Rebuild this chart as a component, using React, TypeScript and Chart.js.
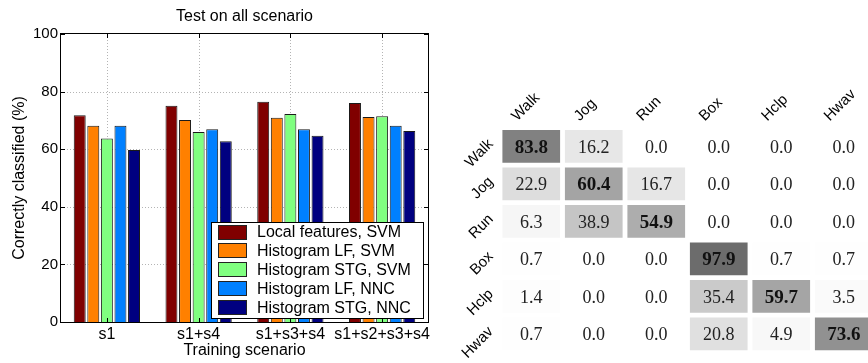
import React, { useEffect, useRef } from 'react';
import { Chart, registerables } from 'chart.js';

Chart.register(...registerables);

// ---------- Bar chart data ----------
const scenarios = ['s1', 's1+s4', 's1+s3+s4', 's1+s2+s3+s4'];
const seriesNames = [
  'Local features, SVM',
  'Histogram LF, SVM',
  'Histogram STG, SVM',
  'Histogram LF, NNC',
  'Histogram STG, NNC',
];
const localFeaturesSVM = [71.8, 75.1, 76.5, 76.0];
const histogramLFSVM = [68.1, 70.1, 70.9, 71.2];
const histogramSTGSVM = [63.7, 66.0, 72.2, 71.4];
const histogramLFNNC = [68.1, 66.9, 66.9, 68.1];
const histogramSTGNNC = [59.7, 62.8, 64.7, 66.3];
const seriesColors = ['#800000', '#ff8000', '#80ff80', '#0080ff', '#000080'];
const yTickValues = [0, 20, 40, 60, 80, 100];

// ---------- Confusion matrix data ----------
const actions = ['Walk', 'Jog', 'Run', 'Box', 'Hclp', 'Hwav'];
const rowWalk = [83.8, 16.2, 0.0, 0.0, 0.0, 0.0];
const rowJog = [22.9, 60.4, 16.7, 0.0, 0.0, 0.0];
const rowRun = [6.3, 38.9, 54.9, 0.0, 0.0, 0.0];
const rowBox = [0.7, 0.0, 0.0, 97.9, 0.7, 0.7];
const rowHclp = [1.4, 0.0, 0.0, 35.4, 59.7, 3.5];
const rowHwav = [0.7, 0.0, 0.0, 20.8, 4.9, 73.6];

const SANS = '"Liberation Sans", Arial, Helvetica, sans-serif';
const SERIF = '"Liberation Serif", "Times New Roman", serif';

const cellGray = (v: number) => {
  const g = Math.round(255 - 1.5 * v);
  return `rgb(${g},${g},${g})`;
};

const barFramePlugin = {
  id: 'barFrame',
  beforeDatasetsDraw(chart: any) {
    const { ctx, chartArea: a, scales } = chart;
    ctx.save();
    ctx.strokeStyle = '#b4b4b4';
    ctx.lineWidth = 1;
    ctx.setLineDash([1, 2]);
    yTickValues.forEach((v) => {
      if (v === 0 || v === 100) return;
      const y = Math.round(scales.y.getPixelForValue(v)) + 0.5;
      ctx.beginPath();
      ctx.moveTo(a.left, y);
      ctx.lineTo(a.right, y);
      ctx.stroke();
    });
    scenarios.forEach((_, i) => {
      const x = Math.round(scales.x.getPixelForValue(i)) + 0.5;
      ctx.beginPath();
      ctx.moveTo(x, a.top);
      ctx.lineTo(x, a.bottom);
      ctx.stroke();
    });
    ctx.restore();
  },
  afterDatasetsDraw(chart: any) {
    const { ctx, chartArea: a, scales } = chart;
    ctx.save();
    ctx.setLineDash([]);
    ctx.strokeStyle = '#000';
    ctx.lineWidth = 1;
    ctx.strokeRect(a.left - 0.5, a.top - 0.5, a.right - a.left + 1, a.bottom - a.top + 1);
    // inward tick marks
    ctx.beginPath();
    yTickValues.forEach((v) => {
      const y = Math.round(scales.y.getPixelForValue(v)) + 0.5;
      ctx.moveTo(a.left, y);
      ctx.lineTo(a.left + 4, y);
      ctx.moveTo(a.right, y);
      ctx.lineTo(a.right - 4, y);
    });
    scenarios.forEach((_, i) => {
      const x = Math.round(scales.x.getPixelForValue(i)) + 0.5;
      ctx.moveTo(x, a.bottom);
      ctx.lineTo(x, a.bottom - 4);
      ctx.moveTo(x, a.top);
      ctx.lineTo(x, a.top + 4);
    });
    ctx.stroke();

    // legend box
    const lx = 211, ly = 222, lw = 212, lh = 96;
    ctx.fillStyle = '#fff';
    ctx.fillRect(lx, ly, lw, lh);
    ctx.strokeRect(lx + 0.5, ly + 0.5, lw, lh);
    ctx.font = `16px ${SANS}`;
    ctx.textAlign = 'left';
    ctx.textBaseline = 'middle';
    chart.data.datasets.forEach((ds: any, i: number) => {
      const cy = 232 + i * 18.9;
      ctx.fillStyle = ds.backgroundColor;
      ctx.fillRect(218, Math.round(cy - 7.5), 29, 15);
      ctx.strokeStyle = '#222';
      ctx.strokeRect(218.5, Math.round(cy - 7.5) + 0.5, 28, 14);
      ctx.fillStyle = '#000';
      ctx.fillText(ds.label, 257, cy + 1);
    });
    ctx.restore();
  },
  afterDraw(chart: any) {
    const { ctx, chartArea: a } = chart;
    const cx = (a.left + a.right) / 2;
    ctx.save();
    ctx.fillStyle = '#000';
    ctx.font = `16px ${SANS}`;
    ctx.textAlign = 'center';
    ctx.textBaseline = 'alphabetic';
    ctx.fillText('Test on all scenario', cx, 21);
    ctx.fillText('Training scenario', cx, 355);
    ctx.translate(20, (a.top + a.bottom) / 2);
    ctx.rotate(-Math.PI / 2);
    ctx.textBaseline = 'middle';
    ctx.fillText('Correctly classified (%)', 0, 0);
    ctx.restore();
  },
};

const matrixRows = [rowWalk, rowJog, rowRun, rowBox, rowHclp, rowHwav];

const matrixPlugin = {
  id: 'matrixText',
  afterDatasetsDraw(chart: any) {
    const { ctx, chartArea: a, scales } = chart;
    ctx.save();
    ctx.textAlign = 'center';
    ctx.textBaseline = 'alphabetic';
    chart.data.datasets.forEach((_: any, i: number) => {
      const meta = chart.getDatasetMeta(i);
      meta.data.forEach((el: any, j: number) => {
        const v = matrixRows[i][j];
        const diag = i === j;
        ctx.font = `${diag ? 'bold 19px' : '18px'} ${SERIF}`;
        ctx.fillStyle = diag ? '#111' : '#222';
        const cy = (el.y + el.base) / 2;
        ctx.fillText(v.toFixed(1), el.x, cy + 6.5);
      });
    });
    ctx.font = `15px ${SANS}`;
    ctx.fillStyle = '#000';
    ctx.textBaseline = 'middle';
    actions.forEach((name, j) => {
      const x = scales.x.getPixelForValue(j);
      ctx.save();
      ctx.translate(x - 17, a.top - 9);
      ctx.rotate(-Math.PI / 4);
      ctx.textAlign = 'left';
      ctx.fillText(name, 0, 0);
      ctx.restore();
    });
    actions.forEach((name, i) => {
      const y = scales.y.getPixelForValue(i);
      ctx.save();
      ctx.translate(a.left - 9, y - 4.5);
      ctx.rotate(-Math.PI / 4);
      ctx.textAlign = 'right';
      ctx.fillText(name, 0, 0);
      ctx.restore();
    });
    ctx.restore();
  },
};

export default function App() {
  const barRef = useRef<HTMLCanvasElement>(null);
  const matRef = useRef<HTMLCanvasElement>(null);

  useEffect(() => {
    const seriesValues = [localFeaturesSVM, histogramLFSVM, histogramSTGSVM, histogramLFNNC, histogramSTGNNC];
    const bar = new Chart(barRef.current!, {
      type: 'bar',
      data: {
        labels: scenarios,
        datasets: seriesValues.map((d, i) => ({
          label: seriesNames[i],
          data: d,
          backgroundColor: seriesColors[i],
          borderColor: '#1a1a1a',
          borderWidth: 1,
          categoryPercentage: 0.74,
          barPercentage: 0.88,
        })),
      },
      options: {
        responsive: false,
        animation: false,
        layout: { padding: { top: 34, right: 12, left: 0, bottom: 0 } },
        plugins: { legend: { display: false }, title: { display: false }, tooltip: { enabled: false } },
        scales: {
          x: {
            grid: { display: false, drawTicks: false },
            border: { display: false },
            ticks: { font: { family: SANS, size: 16 }, color: '#000', padding: 3, maxRotation: 0, minRotation: 0, autoSkip: false },
            afterFit: (s: any) => { s.height = 41; },
          },
          y: {
            min: 0,
            max: 100,
            grid: { display: false, drawTicks: false },
            border: { display: false },
            ticks: { stepSize: 20, font: { family: SANS, size: 15 }, color: '#000', padding: 3 },
            afterFit: (s: any) => { s.width = 61; },
          },
        },
      } as any,
      plugins: [barFramePlugin],
    });

    const mat = new Chart(matRef.current!, {
      type: 'bar',
      data: {
        labels: actions,
        datasets: matrixRows.map((row, i) => ({
          label: actions[i],
          data: row.map(() => [i - 0.436, i + 0.436]),
          backgroundColor: row.map((v) => cellGray(v)),
          borderWidth: 0,
          grouped: false,
          categoryPercentage: 1,
          barPercentage: 0.923,
        })),
      } as any,
      options: {
        responsive: false,
        animation: false,
        layout: { padding: { left: 60, right: 5, top: 127.6, bottom: 10.4 } },
        plugins: { legend: { display: false }, tooltip: { enabled: false } },
        scales: {
          x: { display: false, offset: true },
          y: { display: false, min: -0.5, max: 5.5, reverse: true },
        },
      } as any,
      plugins: [matrixPlugin],
    });

    return () => {
      bar.destroy();
      mat.destroy();
    };
  }, []);

  return (
    <div style={{ position: 'fixed', left: 0, top: 0, width: 868, height: 363, overflow: 'hidden', background: '#fff' }}>
      <canvas ref={barRef} width={440} height={363} style={{ position: 'absolute', left: 0, top: 0, width: 440, height: 363 }} />
      <canvas ref={matRef} width={440} height={363} style={{ position: 'absolute', left: 440, top: 0, width: 440, height: 363 }} />
    </div>
  );
}
